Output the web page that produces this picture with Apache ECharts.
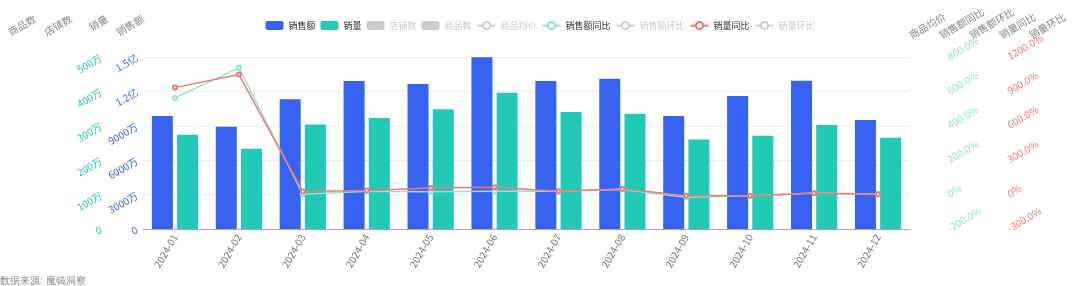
<!DOCTYPE html>
<html>
<head>
<meta charset="utf-8">
<script src="https://cdn.jsdelivr.net/npm/echarts@6/dist/echarts.min.js"></script>
<style>html,body{margin:0;padding:0;background:#fff}#c{width:1080px;height:286px}</style>
</head>
<body>
<div id="c"></div>
<script>
var months = ['2024-01','2024-02','2024-03','2024-04','2024-05','2024-06','2024-07','2024-08','2024-09','2024-10','2024-11','2024-12'];
// 销售额 (元)
var salesAmount = [98500000, 89200000, 113100000, 129000000, 126400000, 149700000, 129000000, 131000000, 98500000, 116000000, 129300000, 95000000];
// 销量 (件)
var salesVolume = [2740000, 2330000, 3040000, 3230000, 3480000, 3960000, 3400000, 3350000, 2600000, 2710000, 3020000, 2650000];
// 销售额同比 (%)
var amountYoY = [562, 737, 2, 20, 17, 19, 19, 29, -16, -6, 10, 3];
// 销量同比 (%)
var volumeYoY = [933, 1047, 26, 35, 58, 64, 29, 50, -9, -9, 11, 3];
// hidden series (legend unselected, values not shown in picture)
var shopCount = [];
var skuCount = [];
var avgPrice = [];
var amountMoM = [];
var volumeMoM = [];
var amountTicks = {min: 0, max: 150000000, interval: 30000000};
var volumeTicks = {min: 0, max: 5000000, interval: 1000000};
var amountYoYTicks = {min: -200, max: 800, interval: 200};
var volumeYoYTicks = {min: -300, max: 1200, interval: 300};

var C_BLUE = '#3862f1', C_TEAL = '#22c9b4', C_LTEAL = '#92e3d2', C_RED = '#ee7a76';

function fmtMoney(v){
  if (v === 0) return '0';
  if (v >= 1e8) return (v/1e8) + '亿';
  if (v >= 1e4) return (v/1e4) + '万';
  return v;
}
function fmtPct(v){ return v === 0 ? '0%' : v.toFixed(1) + '%'; }

var nameStyleL = {color:'#888', fontSize:10, align:'right'};
var nameStyleR = {color:'#888', fontSize:10, align:'left'};

function yL(name, offset, extra){
  return Object.assign({
    type:'value', name:name, position:'left', offset:offset, nameRotate:30, nameGap:39,
    nameTextStyle:nameStyleL, axisLine:{show:false}, axisTick:{show:false}, splitLine:{show:false},
    axisLabel:{show:false}
  }, extra||{});
}
function yR(name, offset, extra){
  return Object.assign({
    type:'value', name:name, position:'right', offset:offset, nameRotate:30, nameGap:21,
    nameTextStyle:nameStyleR, axisLine:{show:false}, axisTick:{show:false}, splitLine:{show:false},
    axisLabel:{show:false}
  }, extra||{});
}

var chart = echarts.init(document.getElementById('c'));
chart.setOption({
  animation:false,
  backgroundColor:'#fff',
  textStyle:{fontFamily:'"Noto Sans CJK SC", "Noto Sans", sans-serif'},
  legend:{
    top:16, left:'center', itemWidth:18, itemHeight:9, itemGap:5,
    textStyle:{fontSize:9, color:'#333'}, inactiveColor:'#ccc',
    data:[
      {name:'销售额', icon:'roundRect'},{name:'销量', icon:'roundRect'},
      {name:'店铺数', icon:'roundRect'},{name:'商品数', icon:'roundRect'},
      '商品均价','销售额同比','销售额环比','销量同比','销量环比'
    ],
    selected:{'店铺数':false,'商品数':false,'商品均价':false,'销售额环比':false,'销量环比':false}
  },
  grid:{left:143, right:170, top:57, bottom:57},
  xAxis:{
    type:'category', data:months,
    axisLine:{lineStyle:{color:'#aaa'}},
    axisTick:{alignWithLabel:true, lineStyle:{color:'#aaa'}},
    axisLabel:{rotate:60, color:'#777', fontSize:10, margin:6}
  },
  yAxis:[
    yL('销售额', 0, {min:amountTicks.min, max:amountTicks.max, interval:amountTicks.interval,
      axisLabel:{show:true, rotate:30, color:C_BLUE, fontSize:10, formatter:fmtMoney, margin:6},
      splitLine:{show:true, lineStyle:{color:'#ececec'}}}),
    yL('销量', 36, {min:volumeTicks.min, max:volumeTicks.max, interval:volumeTicks.interval,
      axisLabel:{show:true, rotate:30, color:C_TEAL, fontSize:10, formatter:fmtMoney, margin:6}}),
    yL('店铺数', 72),
    yL('商品数', 108),
    yR('商品均价', 0),
    yR('销售额同比', 30, {min:amountYoYTicks.min, max:amountYoYTicks.max, interval:amountYoYTicks.interval,
      axisLabel:{show:true, rotate:30, color:C_LTEAL, fontSize:10, formatter:fmtPct, margin:8}}),
    yR('销售额环比', 60),
    yR('销量同比', 90, {min:volumeYoYTicks.min, max:volumeYoYTicks.max, interval:volumeYoYTicks.interval,
      axisLabel:{show:true, rotate:30, color:C_RED, fontSize:10, formatter:fmtPct, margin:8}}),
    yR('销量环比', 120)
  ],
  series:[
    {name:'销售额', type:'bar', yAxisIndex:0, data:salesAmount, barWidth:21, barGap:'20%', itemStyle:{color:C_BLUE}},
    {name:'销量', type:'bar', yAxisIndex:1, data:salesVolume, barWidth:21, barGap:'20%', itemStyle:{color:C_TEAL}},
    {name:'店铺数', type:'bar', yAxisIndex:2, data:shopCount, itemStyle:{color:'#ccc'}},
    {name:'商品数', type:'bar', yAxisIndex:3, data:skuCount, itemStyle:{color:'#ccc'}},
    {name:'商品均价', type:'line', yAxisIndex:4, data:avgPrice, symbol:'emptyCircle', itemStyle:{color:'#fac858'}},
    {name:'销售额同比', type:'line', yAxisIndex:5, data:amountYoY, symbol:'emptyCircle', symbolSize:4,
      lineStyle:{width:1.5, color:C_LTEAL}, itemStyle:{color:C_LTEAL}},
    {name:'销售额环比', type:'line', yAxisIndex:6, data:amountMoM, symbol:'emptyCircle', itemStyle:{color:'#73c0de'}},
    {name:'销量同比', type:'line', yAxisIndex:7, data:volumeYoY, symbol:'emptyCircle', symbolSize:4,
      lineStyle:{width:1.5, color:C_RED}, itemStyle:{color:C_RED}},
    {name:'销量环比', type:'line', yAxisIndex:8, data:volumeMoM, symbol:'emptyCircle', itemStyle:{color:'#9a60b4'}}
  ],
  graphic:[{type:'text', left:0, bottom:0, style:{text:'数据来源: 魔镜洞察', fill:'#888', fontSize:10}}]
});
</script>
</body>
</html>
